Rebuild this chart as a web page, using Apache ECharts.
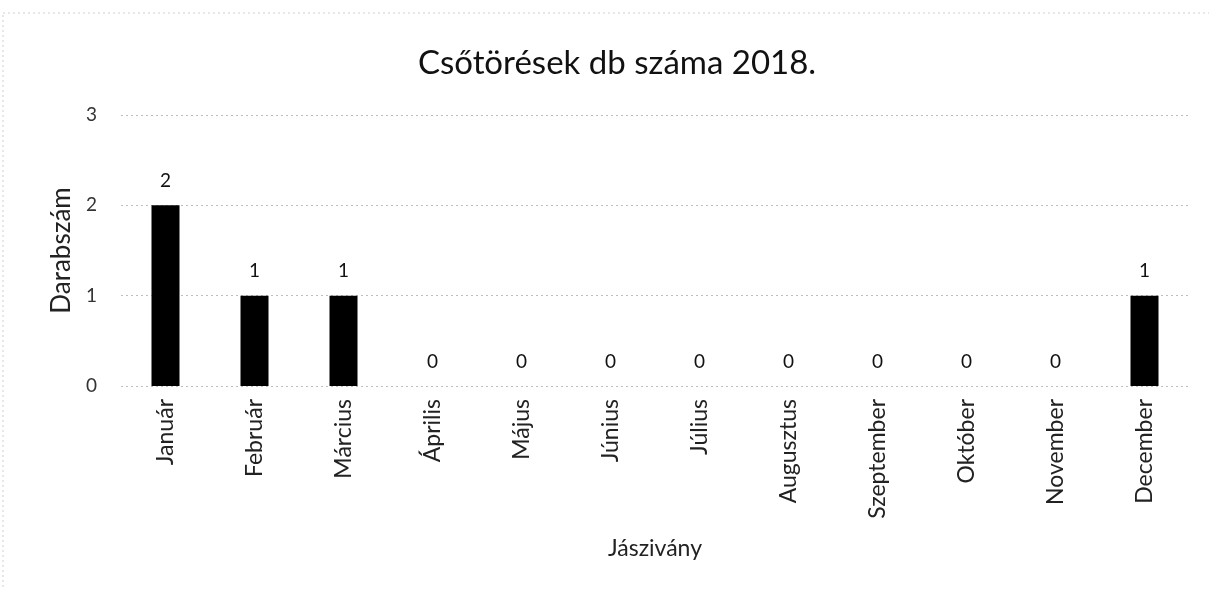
<!DOCTYPE html>
<html><head><meta charset="utf-8">
<script src="https://cdn.jsdelivr.net/npm/echarts@6/dist/echarts.min.js"></script>
<style>html,body{margin:0;padding:0;background:#fff}#c{width:1209px;height:590px}</style>
</head><body><div id="c"></div>
<script>
const categories = ['Január','Február','Március','Április','Május','Június','Július','Augusztus','Szeptember','Október','November','December'];
const values = [2,1,1,0,0,0,0,0,0,0,0,1];
const yTicks = [0,1,2,3];
const FONT = 'Lato';
const chart = echarts.init(document.getElementById('c'));
chart.setOption({
  backgroundColor:'#fff',
  animation:false,
  title:{text:'Csőtörések db száma 2018.',left:612,top:42,textAlign:'center',
    textStyle:{fontFamily:FONT,fontSize:33,fontWeight:'normal',color:'#111'}},
  graphic:[{type:'rect',shape:{x:3,y:13,width:1212,height:600},
    style:{fill:'none',stroke:'#cfcfcf',lineWidth:1,lineDash:[2,3]}}],
  grid:{left:121,right:20,top:115,bottom:204,containLabel:false},
  xAxis:{type:'category',data:categories,
    name:'Jászivány',nameLocation:'middle',nameGap:151,
    nameTextStyle:{fontFamily:FONT,fontSize:23,color:'#222'},
    axisLine:{show:false},axisTick:{show:false},
    axisLabel:{rotate:90,interval:0,margin:13,fontFamily:FONT,fontSize:23,color:'#222'}},
  yAxis:{type:'value',min:0,max:3,interval:1,
    name:'Darabszám',nameLocation:'middle',nameGap:44,nameRotate:90,
    nameTextStyle:{fontFamily:FONT,fontSize:26,color:'#222'},
    axisLine:{show:false},axisTick:{show:false},
    axisLabel:{margin:24,fontFamily:FONT,fontSize:19,color:'#333',
      formatter:v=>yTicks.includes(v)?String(v):''},
    splitLine:{lineStyle:{color:'#bdbdbd',type:[2,3],width:1}}},
  series:[{type:'bar',data:values,barWidth:28,
    itemStyle:{color:'#000'},
    label:{show:true,position:'top',distance:15,fontFamily:FONT,fontSize:19,color:'#111'}}]
});
</script></body></html>
